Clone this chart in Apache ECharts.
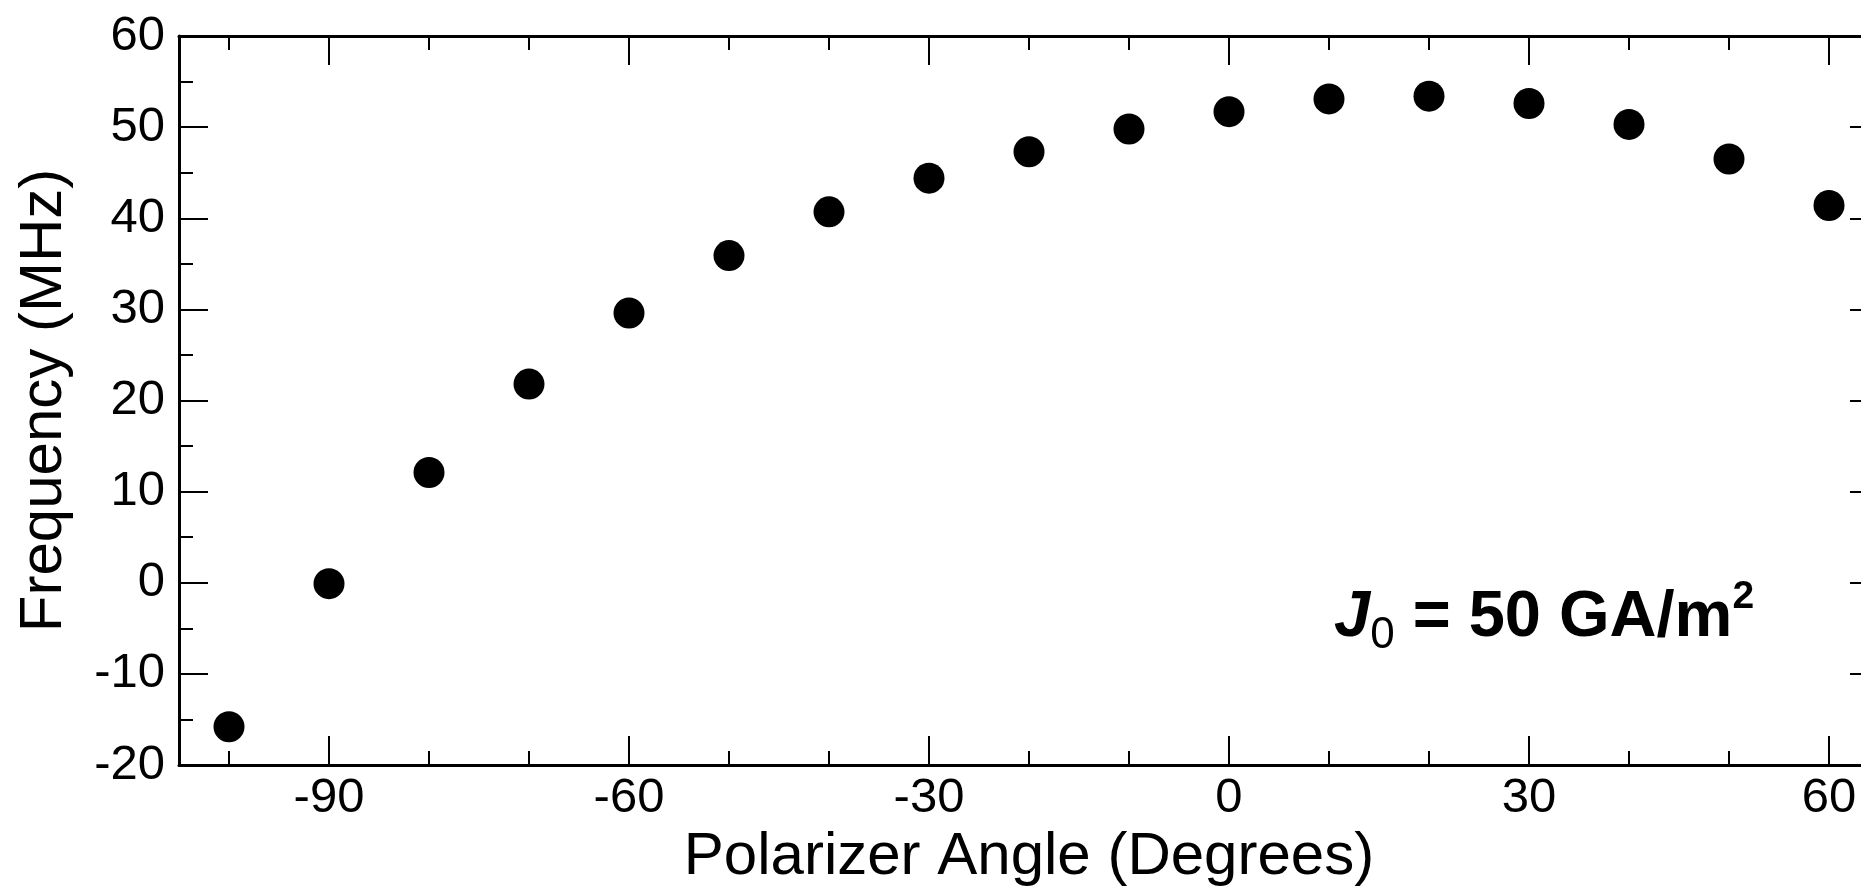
<!DOCTYPE html>
<html>
<head>
<meta charset="utf-8">
<script src="https://cdn.jsdelivr.net/npm/echarts@6/dist/echarts.min.js"></script>
<style>
  html, body { margin: 0; padding: 0; background: #fff; }
  #chart { width: 1861px; height: 888px; }
</style>
</head>
<body>
<div id="chart"></div>
<script>
// Polarizer angle (degrees) and measured frequency (MHz)
const angles = [-100, -90, -80, -70, -60, -50, -40, -30, -20, -10, 0, 10, 20, 30, 40, 50, 60];
const frequencies = [-15.8, -0.1, 12.1, 21.8, 29.6, 35.9, 40.7, 44.4, 47.3, 49.8, 51.7, 53.1, 53.4, 52.6, 50.3, 46.5, 41.4];

// Tick positions on the angle axis
const xMajorTicks = [-90, -60, -30, 0, 30, 60];
const xMinorTicks = [-100, -80, -70, -50, -40, -20, -10, 10, 20, 40, 50];

const FONT = '"Liberation Sans", Arial, Helvetica, sans-serif';
const X_MIN = -105, X_MAX = 65;
const Y_MIN = -20, Y_MAX = 60;

const tickStyle = { color: '#000', width: 2 };
const spineStyle = { color: '#000', width: 3 };

function xAxis(position, values, len, withLine, withLabels) {
  return {
    type: 'value', position: position, min: X_MIN, max: X_MAX,
    axisLine: { show: withLine, onZero: false, lineStyle: spineStyle },
    axisTick: { show: true, inside: true, length: len, customValues: values, lineStyle: tickStyle },
    axisLabel: withLabels
      ? { show: true, customValues: values, margin: 9, fontSize: 49, color: '#000', fontFamily: FONT, hideOverlap: false }
      : { show: false },
    splitLine: { show: false }
  };
}

function yAxis(position, withLabels) {
  return {
    type: 'value', position: position, min: Y_MIN, max: Y_MAX, interval: 10,
    axisLine: { show: true, onZero: false, lineStyle: spineStyle },
    axisTick: { show: true, inside: true, length: 29, lineStyle: tickStyle },
    minorTick: { show: true, splitNumber: 2, length: 14, lineStyle: tickStyle },
    axisLabel: withLabels
      ? { show: true, margin: 14, fontSize: 49, color: '#000', fontFamily: FONT }
      : { show: false },
    splitLine: { show: false },
    minorSplitLine: { show: false }
  };
}

const chart = echarts.init(document.getElementById('chart'), null, { renderer: 'canvas' });

const bottomMajor = xAxis('bottom', xMajorTicks, 29, true, true);
bottomMajor.name = 'Polarizer Angle (Degrees)';
bottomMajor.nameLocation = 'middle';
bottomMajor.nameGap = 61;
bottomMajor.nameTextStyle = { fontSize: 60, color: '#000', fontFamily: FONT };

const leftAxis = yAxis('left', true);
leftAxis.name = 'Frequency (MHz)';
leftAxis.nameLocation = 'middle';
leftAxis.nameGap = 105;
leftAxis.nameTextStyle = { fontSize: 60, color: '#000', fontFamily: FONT };

chart.setOption({
  backgroundColor: '#fff',
  animation: false,
  // the plot frame runs a little past the right edge of the page
  grid: { left: 179, top: 36, width: 1700, height: 729, containLabel: false, outerBoundsMode: 'none' },
  xAxis: [
    bottomMajor,
    xAxis('bottom', xMinorTicks, 14, false, false),
    xAxis('top', xMajorTicks, 29, true, false),
    xAxis('top', xMinorTicks, 14, false, false)
  ],
  yAxis: [
    leftAxis,
    yAxis('right', false)
  ],
  series: [{
    type: 'scatter',
    xAxisIndex: 0,
    yAxisIndex: 0,
    symbol: 'circle',
    symbolSize: 31,
    itemStyle: { color: '#000', opacity: 1 },
    data: angles.map((a, i) => [a, frequencies[i]])
  }],
  graphic: [{
    type: 'text',
    x: 1334,
    y: 578,
    style: {
      text: '{j|J}{sub|0}{b| = 50 GA/m}{sup|2}',
      verticalAlign: 'top',
      rich: {
        j: { fontSize: 65, fontWeight: 'bold', fontStyle: 'italic', fontFamily: FONT, fill: '#000', lineHeight: 80 },
        sub: { fontSize: 44, fontWeight: 'normal', fontFamily: FONT, fill: '#000', lineHeight: 58, verticalAlign: 'bottom' },
        b: { fontSize: 65, fontWeight: 'bold', fontFamily: FONT, fill: '#000', lineHeight: 80 },
        sup: { fontSize: 39, fontWeight: 'bold', fontFamily: FONT, fill: '#000', lineHeight: 60, verticalAlign: 'top' }
      }
    }
  }]
});
</script>
</body>
</html>
